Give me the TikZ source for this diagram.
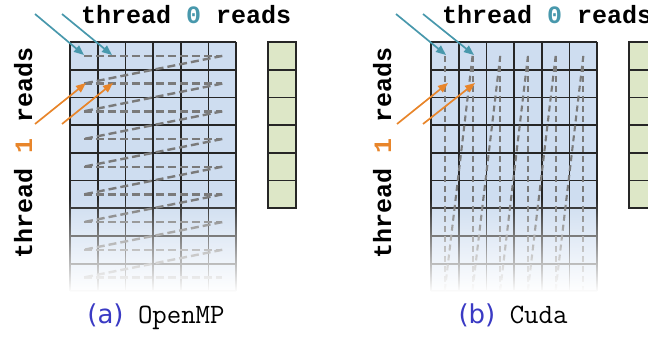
\documentclass[tikz,border=0pt]{standalone}
\usepackage{fontspec}
\newfontfamily\codefont{Liberation Mono}
\newfontfamily\capfont{DejaVu Sans}
\usetikzlibrary{arrows.meta,fadings}

\definecolor{cellblue}{RGB}{206,221,240}
\definecolor{cellgreen}{RGB}{221,231,199}
\definecolor{threadteal}{RGB}{72,152,172}
\definecolor{threadorange}{RGB}{232,133,42}
\definecolor{walkgray}{RGB}{122,122,122}
\definecolor{capblue}{RGB}{58,58,196}

\tikzfading[name=gridfade, top color=transparent!100, bottom color=transparent!0]

\begin{document}
\begin{tikzpicture}[
    x=1pt, y=-1pt,
    gridline/.style={draw=black!85, line width=1.8pt},
    read0/.style={-{Triangle[length=10pt,width=8pt]}, line width=1.7pt, threadteal},
    read1/.style={-{Triangle[length=10pt,width=8pt]}, line width=1.7pt, threadorange},
    rowwalk/.style={draw=walkgray, line width=2.4pt, dash pattern=on 8pt off 4pt},
    colwalk/.style={draw=walkgray, line width=2.1pt, dash pattern=on 6pt off 4pt},
    title/.style={font=\codefont\bfseries\fontsize{25}{30}\selectfont, inner sep=0pt},
    caption/.style={font=\ttfamily\fontsize{28}{32}\selectfont, inner sep=0pt}
  ]
  \useasboundingbox (0,0) rectangle (648,337);
  \clip (0,0) rectangle (648,337);

  % (a) OpenMP: row-wise access
  \begin{scope}
    \fill[cellblue] (70,42) rectangle (236.2,291.3);
    \foreach \i in {0,...,6}
      \draw[gridline] ({70+27.7*\i},42) -- ({70+27.7*\i},291.3);
    \foreach \j in {0,...,9}
      \draw[gridline] (70,{42+27.7*\j}) -- (236.2,{42+27.7*\j});
    \foreach \j in {0,...,8}
      \draw[rowwalk] (83.85,{55.9+27.7*\j}) -- (222.3,{55.9+27.7*\j});
    \foreach \j in {1,...,8}
      \draw[rowwalk] (222.3,{55.9+27.7*(\j-1)}) -- (83.85,{55.9+27.7*\j});
    \fill[white, path fading=gridfade] (62,198) rectangle (244,292);
    \fill[white] (62,291.5) rectangle (244,300);

    \fill[cellgreen] (268,42) rectangle (295.7,208.2);
    \draw[gridline] (268,42) rectangle (295.7,208.2);
    \foreach \j in {1,...,5}
      \draw[gridline] (268,{42+27.7*\j}) -- (295.7,{42+27.7*\j});

    \coordinate (a00) at (84,55);
    \coordinate (a01) at (112,55);
    \coordinate (a10) at (86,83);
    \coordinate (a11) at (113,83);
    \coordinate (a0s) at (35,14);
    \coordinate (a0t) at (62,14);
    \coordinate (a1s) at (35,124);
    \coordinate (a1t) at (62,124);
    \draw[read0] (a0s) -- (a00);
    \draw[read0] (a0t) -- (a01);
    \draw[read1] (a1s) -- (a10);
    \draw[read1] (a1t) -- (a11);

    \node[title, anchor=base west] (topa) at (81,24)
      {thread \textcolor{threadteal}{0} reads};
    \node[title, anchor=base, rotate=90] (sidea) at (32,153)
      {thread \textcolor{threadorange}{1} reads};
    \node[caption, anchor=base] (capa) at (156,323)
      {\textcolor{capblue}{\capfont\fontsize{26}{30}\selectfont (a)} OpenMP};
  \end{scope}

  % (b) Cuda: column-wise access
  \begin{scope}[xshift=361]
    \fill[cellblue] (70,42) rectangle (236.2,291.3);
    \foreach \i in {0,...,6}
      \draw[gridline] ({70+27.7*\i},42) -- ({70+27.7*\i},291.3);
    \foreach \j in {0,...,9}
      \draw[gridline] (70,{42+27.7*\j}) -- (236.2,{42+27.7*\j});
    \foreach \i in {0,...,5}
      \draw[colwalk] ({83.85+27.7*\i},55.9) -- ({83.85+27.7*\i},290);
    \foreach \i in {1,...,5}
      \draw[colwalk] ({83.85+27.7*\i},55.9) -- ({83.85+27.7*(\i-1)},290);
    \fill[white, path fading=gridfade] (62,198) rectangle (244,292);
    \fill[white] (62,291.5) rectangle (244,300);

    \fill[cellgreen] (268,42) rectangle (295.7,208.2);
    \draw[gridline] (268,42) rectangle (295.7,208.2);
    \foreach \j in {1,...,5}
      \draw[gridline] (268,{42+27.7*\j}) -- (295.7,{42+27.7*\j});

    \coordinate (b00) at (85,55);
    \coordinate (b01) at (113,55);
    \coordinate (b10) at (87,83);
    \coordinate (b11) at (114,83);
    \coordinate (b0s) at (35,14);
    \coordinate (b0t) at (62,14);
    \coordinate (b1s) at (36,124);
    \coordinate (b1t) at (62,124);
    \draw[read0] (b0s) -- (b00);
    \draw[read0] (b0t) -- (b01);
    \draw[read1] (b1s) -- (b10);
    \draw[read1] (b1t) -- (b11);

    \node[title, anchor=base west] (topb) at (81,24)
      {thread \textcolor{threadteal}{0} reads};
    \node[title, anchor=base, rotate=90] (sideb) at (30,153)
      {thread \textcolor{threadorange}{1} reads};
    \node[caption, anchor=base] (capb) at (152,323)
      {\textcolor{capblue}{\capfont\fontsize{26}{30}\selectfont (b)} Cuda};
  \end{scope}
\end{tikzpicture}
\end{document}
